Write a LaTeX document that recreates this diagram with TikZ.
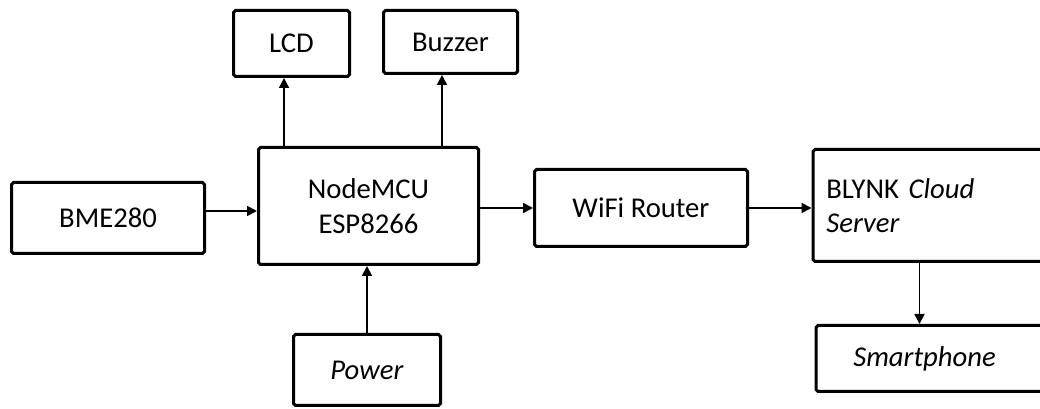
\documentclass[tikz,border=0pt]{standalone}
\usepackage{fontspec}
\setmainfont{Carlito}
\usepackage{xcolor}
\usepackage{tikz}
\usetikzlibrary{shapes,arrows.meta,positioning}

\begin{document}
\begin{tikzpicture}[
                x=0.75pt, y=-0.75pt,
                block/.style={
                    draw,
                    line width=2.25pt,
                    rounded corners=0.05cm,
                    font=\fontsize{21.5}{26}\selectfont,
                    inner sep=0pt
                },
                link/.style={
                    line width=1.3pt,
                    -{Triangle[length=7.5pt,width=7.5pt]}
                }
            ]
                \useasboundingbox (0,0) rectangle (1040,409);

                \node[block, minimum width=144.75pt, minimum height=53.25pt] (bme) at (108,218) {BME280};
                \node[block, minimum width=165pt, minimum height=87.75pt, align=center] (mcu) at (368.5,206) {NodeMCU\\ESP8266};
                \node[block, minimum width=87pt, minimum height=49.5pt] (lcd) at (291.5,43.5) {LCD};
                \node[block, minimum width=100.5pt, minimum height=47.25pt] (buzzer) at (450.5,42) {Buzzer};
                \node[block, minimum width=110.25pt, minimum height=53.25pt] (power) at (367,370) {\textit{Power}};
                \node[block, minimum width=159.75pt, minimum height=57.75pt] (wifi) at (641,208) {WiFi Router};

                \node[
                    block,
                    anchor=west,
                    minimum height=84pt,
                    text width=400pt,
                    inner xsep=10pt,
                    align=left
                ] (blynk) at (811.5,205.5) {BLYNK \textit{Cloud}\\\textit{Server}};

                \node[
                    block,
                    anchor=west,
                    minimum height=49.5pt,
                    text width=400pt,
                    inner xsep=28pt,
                    align=left
                ] (phone) at (814.5,358.5) {\textit{Smartphone}};

                % connectors
                \draw[link] ([yshift=5.25pt]bme.east) -- ([yshift=5.25pt]bme.east -| mcu.west);
                \draw[link] (mcu.east |- wifi.west) -- (wifi.west);
                \draw[link] (wifi.east) -- (wifi.east -| blynk.west);
                \draw[link] ([xshift=-5.6pt]lcd.south |- mcu.north) -- ([xshift=-5.6pt]lcd.south);
                \draw[link] ([xshift=-6.4pt]buzzer.south |- mcu.north) -- ([xshift=-6.4pt]buzzer.south);
                \draw[link] (power.north) -- (power.north |- mcu.south);

                \coordinate (cloudout) at ([xshift=81pt]blynk.south west);
                \draw[link] (cloudout) -- (cloudout |- phone.north);

            \end{tikzpicture}
\end{document}
